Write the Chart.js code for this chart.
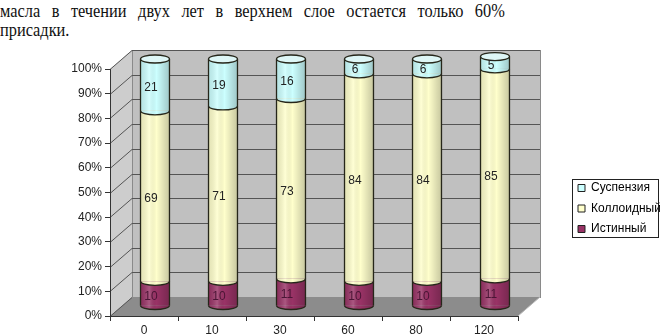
<!DOCTYPE html>
<html>
<head>
<meta charset="utf-8">
<script src="https://cdn.jsdelivr.net/npm/chart.js@4"></script>
<style>
  body { margin: 0; background: #fff; width: 660px; height: 335px; overflow: hidden; position: relative; }
  .txt { position: absolute; left: 0; width: 587px; font: 19px/19px 'Liberation Serif', 'Times New Roman', serif; color: #111;
         transform: scaleX(0.86); transform-origin: 0 0; white-space: nowrap; }
  #l1 { top: 1px; text-align: justify; text-align-last: justify; }
  #l2 { top: 20px; }
  #wrap { position: absolute; left: 0; top: 40px; width: 660px; height: 295px; }
</style>
</head>
<body>
<div class="txt" id="l1">масла в течении двух лет в верхнем слое остается только 60%</div>
<div class="txt" id="l2">присадки.</div>
<div id="wrap"><canvas id="chart" width="660" height="295"></canvas></div>
<script>
const categories = ['0', '10', '30', '60', '80', '120'];
const istinny = [10, 10, 11, 10, 10, 11];
const kolloid = [69, 71, 73, 84, 84, 85];
const suspenz = [21, 19, 16, 6, 6, 5];

const seriesNames = ['Истинный', 'Коллоидный', 'Суспензия'];
const seriesColors = ['#993366', '#FFFFCC', '#CCFFFF'];
const topColors = ['#b0507f', '#fffff0', '#def6f6'];
const labelColors = ['#4a1535', '#222222', '#222222'];

const FONT = "'Liberation Sans', Arial, sans-serif";
const DX = 22, DY = -19;   // depth of the back wall
const CX = 11, CY = -10;   // cylinders sit half way in
const RY = 4;              // ellipse height of the cylinder ends
const LEGEND_BOX = { x: 572, y: 139, w: 86, h: 58 };

// walls, floor and gridlines of the 3d box + cylinders drawn over the bars
const box3d = {
  id: 'box3d',
  afterLayout(chart) {
    // park the legend inside its framed box on the right
    const lg = chart.legend;
    lg.left = LEGEND_BOX.x - 2.5;
    lg.right = 660;
    lg.top = LEGEND_BOX.y - 5.5;
    lg.bottom = LEGEND_BOX.y + 100;
  },
  beforeDraw(chart) {
    const { ctx, chartArea, scales } = chart;
    const L = chartArea.left, R = chartArea.right, T = chartArea.top, B = chartArea.bottom;
    ctx.save();
    // side wall
    ctx.fillStyle = '#cdcdcd';
    ctx.beginPath();
    ctx.moveTo(L, B); ctx.lineTo(L, T); ctx.lineTo(L + DX, T + DY); ctx.lineTo(L + DX, B + DY);
    ctx.closePath(); ctx.fill();
    // back wall
    ctx.fillStyle = '#c0c0c0';
    ctx.fillRect(L + DX, T + DY, R - L, B - T);
    ctx.strokeStyle = '#8a8a8a';
    ctx.lineWidth = 1;
    ctx.strokeRect(L + DX + 0.5, T + DY + 0.5, R - L, B - T);
    // floor
    ctx.fillStyle = '#8c8c8c';
    ctx.beginPath();
    ctx.moveTo(L, B); ctx.lineTo(R, B); ctx.lineTo(R + DX, B + DY); ctx.lineTo(L + DX, B + DY);
    ctx.closePath(); ctx.fill();
    ctx.strokeStyle = '#b8b8b8';
    ctx.beginPath(); ctx.moveTo(R, B); ctx.lineTo(R + DX, B + DY); ctx.stroke();
    // gridlines: diagonal on the side wall, flat on the back wall
    ctx.strokeStyle = '#555';
    ctx.lineWidth = 1;
    scales.y.ticks.forEach(t => {
      const y = Math.round(scales.y.getPixelForValue(t.value)) + 0.5;
      ctx.beginPath();
      ctx.moveTo(L, y);
      ctx.lineTo(L + DX, y + DY);
      if (t.value > 0) ctx.lineTo(R + DX, y + DY);
      ctx.stroke();
    });
    ctx.restore();
  },
  beforeDatasetsDraw(chart) {
    chart.ctx.save();
    chart.ctx.translate(CX, CY);
  },
  afterDatasetsDraw(chart) {
    const ctx = chart.ctx;
    const metas = chart.data.datasets.map((ds, d) => chart.getDatasetMeta(d));
    categories.forEach((cat, i) => {
      const segs = metas.map(m => m.data[i].getProps(['x', 'y', 'base', 'width'], true));
      const x = segs[0].x, rx = segs[0].width / 2;
      const yBot = segs[0].base, yTop = segs[segs.length - 1].y;

      // rounded bottoms of every segment
      segs.forEach((s, d) => {
        ctx.beginPath();
        ctx.ellipse(x, s.base, rx, RY, 0, 0, Math.PI);
        ctx.fillStyle = seriesColors[d];
        ctx.fill();
      });

      // shading across the cylinder
      ctx.save();
      ctx.beginPath();
      ctx.moveTo(x - rx, yTop);
      ctx.lineTo(x - rx, yBot);
      ctx.ellipse(x, yBot, rx, RY, 0, Math.PI, 0, true);
      ctx.lineTo(x + rx, yTop);
      ctx.ellipse(x, yTop, rx, RY, 0, 0, Math.PI, true);
      ctx.closePath();
      ctx.clip();
      const g = ctx.createLinearGradient(x - rx, 0, x + rx, 0);
      g.addColorStop(0, 'rgba(0,0,0,0.10)');
      g.addColorStop(0.3, 'rgba(255,255,255,0.18)');
      g.addColorStop(0.55, 'rgba(0,0,0,0.0)');
      g.addColorStop(1, 'rgba(0,0,0,0.22)');
      ctx.fillStyle = g;
      ctx.fillRect(x - rx - 1, yTop - RY - 1, 2 * rx + 2, yBot - yTop + 2 * RY + 2);
      ctx.restore();

      // outlines
      ctx.strokeStyle = '#26261a';
      ctx.lineWidth = 1.3;
      ctx.beginPath();
      ctx.moveTo(x - rx, yTop); ctx.lineTo(x - rx, yBot);
      ctx.moveTo(x + rx, yTop); ctx.lineTo(x + rx, yBot);
      ctx.stroke();
      segs.forEach(s => {
        ctx.beginPath();
        ctx.ellipse(x, s.base, rx, RY, 0, 0, Math.PI);
        ctx.stroke();
      });
      ctx.beginPath();
      ctx.ellipse(x, yTop, rx, RY, 0, 0, 2 * Math.PI);
      ctx.fillStyle = topColors[segs.length - 1];
      ctx.fill();
      ctx.stroke();

      // value labels
      ctx.font = '12px ' + FONT;
      ctx.textAlign = 'center';
      ctx.textBaseline = 'middle';
      segs.forEach((s, d) => {
        ctx.fillStyle = labelColors[d];
        ctx.fillText(String(chart.data.datasets[d].data[i]), x - 4, (s.y + s.base) / 2 + 3);
      });
    });
    ctx.restore();
  },
  afterDraw(chart) {
    const ctx = chart.ctx;
    ctx.save();
    ctx.strokeStyle = '#222';
    ctx.lineWidth = 1;
    ctx.strokeRect(LEGEND_BOX.x + 0.5, LEGEND_BOX.y + 0.5, LEGEND_BOX.w, LEGEND_BOX.h);
    ctx.restore();
  }
};

const makeSet = (i, values) => ({
  label: seriesNames[i],
  data: values,
  backgroundColor: seriesColors[i],
  borderWidth: 0,
  barPercentage: 0.426,
  categoryPercentage: 1,
  clip: false
});

new Chart(document.getElementById('chart'), {
  type: 'bar',
  data: {
    labels: categories,
    datasets: [makeSet(0, istinny), makeSet(1, kolloid), makeSet(2, suspenz)]
  },
  options: {
    responsive: false,
    animation: false,
    devicePixelRatio: 1,
    layout: { padding: { top: 29, right: 142, bottom: 0, left: 0 } },
    plugins: {
      tooltip: { enabled: false },
      legend: {
        position: 'chartArea',
        align: 'start',
        reverse: true,
        labels: {
          boxWidth: 7,
          boxHeight: 7,
          padding: 8.5,
          color: '#111',
          font: { size: 12, family: FONT },
          generateLabels: (chart) => chart.data.datasets.map((ds, i) => ({
            text: ds.label,
            fillStyle: seriesColors[i],
            strokeStyle: '#222',
            lineWidth: 1,
            datasetIndex: i,
            hidden: false
          }))
        }
      }
    },
    scales: {
      x: {
        stacked: true,
        offset: true,
        grid: { offset: true, drawOnChartArea: false, tickLength: 5, color: '#333' },
        border: { color: '#333' },
        ticks: { color: '#222', padding: 2, maxRotation: 0, font: { size: 12, family: FONT } },
        afterFit: (s) => { s.height = 19; }
      },
      y: {
        stacked: true,
        min: 0,
        max: 100,
        grid: { drawOnChartArea: false, tickLength: 5, color: '#333' },
        border: { color: '#333' },
        ticks: { stepSize: 10, color: '#222', padding: 3, font: { size: 12, family: FONT }, callback: v => v + '%' },
        afterFit: (s) => { s.width = 110; }
      }
    }
  },
  plugins: [box3d]
});
</script>
</body>
</html>
